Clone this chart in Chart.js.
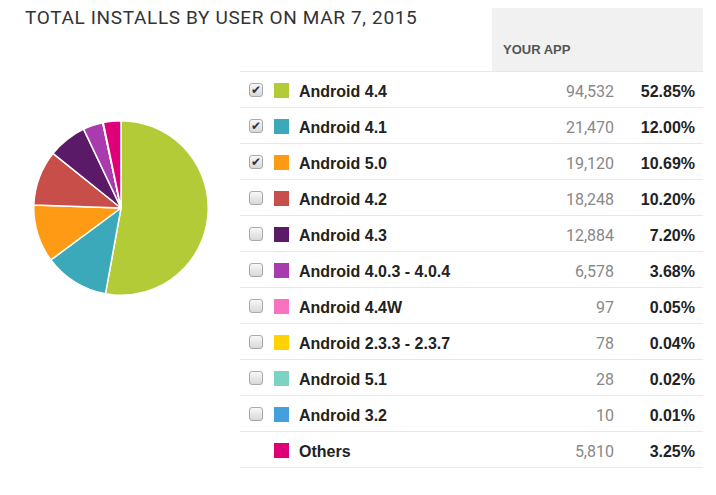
<!DOCTYPE html>
<html>
<head>
<meta charset="utf-8">
<script src="https://cdn.jsdelivr.net/npm/chart.js@4.4.1/dist/chart.umd.min.js"></script>
<style>
  html, body { margin: 0; padding: 0; background: #fff; width: 716px; height: 495px; overflow: hidden; }
  #title { position: absolute; left: 25px; top: 8px; font-family: Roboto, sans-serif; font-size: 19px; letter-spacing: 0.65px; line-height: 19px; color: #333; white-space: nowrap; }
  #pieWrap { position: absolute; left: 33px; top: 120px; width: 176px; height: 176px; }
  #hdr { position: absolute; left: 492px; top: 8px; width: 211px; height: 63px; background: #f1f1f1; }
  #hdr span { position: absolute; left: 11px; top: 34px; font-family: "Liberation Sans", Arial, sans-serif; font-weight: bold; font-size: 13px; color: #555; }
  .topline { position: absolute; left: 240px; top: 71px; width: 463px; height: 1px; background: #e8e8e8; }
  .row { position: absolute; left: 240px; width: 463px; height: 35px; border-bottom: 1px solid #e8e8e8; }
  .cb { position: absolute; left: 9px; top: 11px; width: 12px; height: 12px; border: 1px solid #a9a9a9; border-radius: 3px;
        background: linear-gradient(#f8f8f8, #d8d8d8); box-sizing: content-box; }
  .cb i { position: absolute; left: 1px; top: -2px; font-style: normal; font-size: 12px; line-height: 16px; color: #333; font-family: "DejaVu Sans", sans-serif; }
  .sw { position: absolute; left: 34px; top: 11px; width: 15px; height: 15px; }
  .lbl { position: absolute; left: 59px; top: 2px; line-height: 36px; font-family: "Liberation Sans", Arial, sans-serif; font-weight: bold; font-size: 16px; color: #222; white-space: nowrap; }
  .val { position: absolute; right: 89px; top: 2px; line-height: 36px; font-family: Roboto, sans-serif; font-size: 16px; color: #888; }
  .pct { position: absolute; right: 8px; top: 2px; line-height: 36px; font-family: "Liberation Sans", Arial, sans-serif; font-weight: bold; font-size: 16px; color: #222; }
</style>
</head>
<body>
<div id="title">TOTAL INSTALLS BY USER ON MAR 7, 2015</div>
<div id="pieWrap"><canvas id="pie" width="176" height="176"></canvas></div>
<div id="hdr"><span>YOUR APP</span></div>
<div class="topline"></div>
<div id="table"></div>
<script>
const categories = ["Android 4.4", "Android 4.1", "Android 5.0", "Android 4.2", "Android 4.3",
  "Android 4.0.3 - 4.0.4", "Android 4.4W", "Android 2.3.3 - 2.3.7", "Android 5.1", "Android 3.2", "Others"];
const installs = [94532, 21470, 19120, 18248, 12884, 6578, 97, 78, 28, 10, 5810];
const percents = ["52.85%", "12.00%", "10.69%", "10.20%", "7.20%", "3.68%", "0.05%", "0.04%", "0.02%", "0.01%", "3.25%"];
const checked = [true, true, true, false, false, false, false, false, false, false, null];
const colors = ["#b3cb37", "#3ba9b9", "#ff9a14", "#c84f49", "#5b1a67", "#a83caf", "#f872c0", "#ffd200", "#7dd3c3", "#449fdd", "#df0079"];

const table = document.getElementById('table');
categories.forEach((name, i) => {
  const row = document.createElement('div');
  row.className = 'row';
  row.style.top = (72 + 36 * i) + 'px';
  let html = '';
  if (checked[i] !== null) {
    html += '<div class="cb">' + (checked[i] ? '<i>✔</i>' : '') + '</div>';
  }
  html += '<div class="sw" style="background:' + colors[i] + '"></div>';
  html += '<div class="lbl">' + name + '</div>';
  html += '<div class="val">' + installs[i].toLocaleString('en-US') + '</div>';
  html += '<div class="pct">' + percents[i] + '</div>';
  row.innerHTML = html;
  table.appendChild(row);
});

new Chart(document.getElementById('pie'), {
  type: 'pie',
  data: {
    labels: categories,
    datasets: [{
      data: installs,
      backgroundColor: colors,
      borderColor: '#ffffff',
      borderWidth: 1.5
    }]
  },
  options: {
    responsive: false,
    animation: false,
    devicePixelRatio: 1,
    layout: { padding: 0 },
    plugins: { legend: { display: false }, tooltip: { enabled: false } }
  }
});
</script>
</body>
</html>
